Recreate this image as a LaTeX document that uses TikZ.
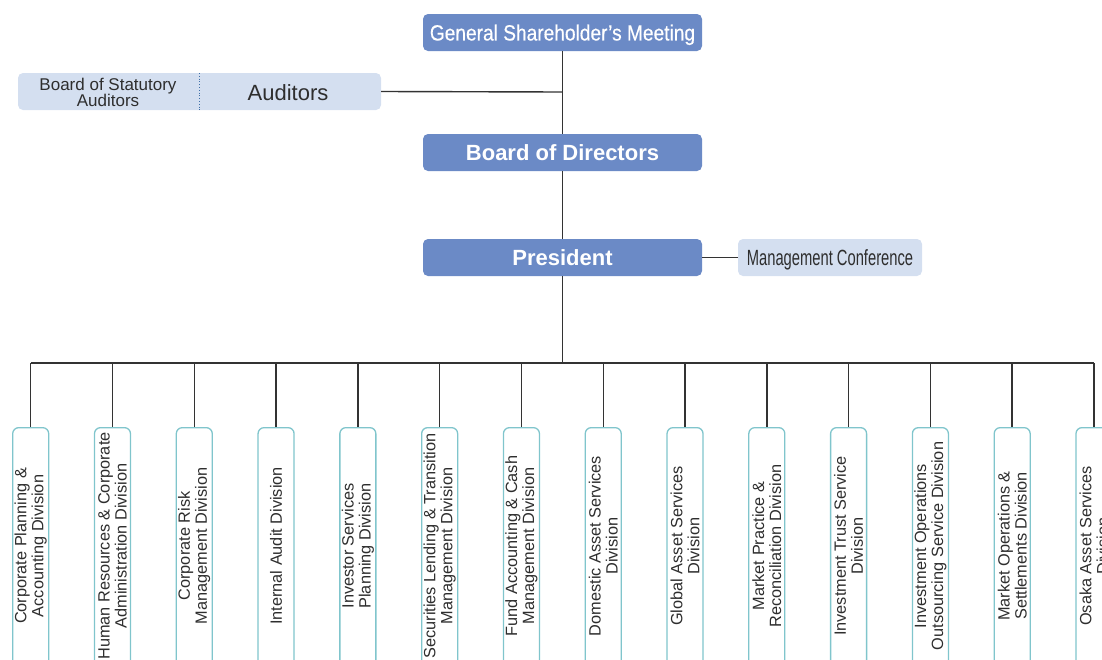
\documentclass[tikz,border=0pt]{standalone}
\usepackage{fontspec}
\setmainfont{Liberation Sans}
\newfontfamily\condfont[FakeStretch=0.87,FakeBold=0.4]{Liberation Sans}
\newfontfamily\narrowfont[FakeStretch=0.67]{Liberation Sans}
\definecolor{topblue}{HTML}{6B8AC6}
\definecolor{lightblue}{HTML}{D4DFF0}
\definecolor{tealedge}{HTML}{80C5CC}
\definecolor{linegray}{HTML}{333333}
\definecolor{textgray}{HTML}{2E2E2E}
\definecolor{dotblue}{HTML}{3F6FA8}
\begin{document}
\begin{tikzpicture}[x=1pt,y=-1pt,
  topbox/.style={fill=topblue, rounded corners=5pt, minimum width=279pt, minimum height=37pt, text=white, inner sep=0pt, text depth=0pt},
  lightbox/.style={fill=lightblue, rounded corners=5pt, minimum height=37pt, inner sep=0pt, text=textgray, text depth=0pt},
  divbox/.style={draw=tealedge, line width=1.3pt, fill=white, rounded corners=6pt, minimum width=36pt, minimum height=240pt, anchor=north, inner sep=0pt},
  divtext/.style={rotate=90, align=center, font=\fontsize{16.3}{17}\selectfont, text=textgray, inner sep=0pt},
  conn/.style={draw=linegray, line width=1.4pt}]
\useasboundingbox (0,0) rectangle (1102,659);
\clip (0,0) rectangle (1102,659);

% top level
\node[topbox, font=\condfont\fontsize{22}{24}\selectfont] (gsm) at (562.5,32.5) {General Shareholder’s Meeting};
\node[topbox, font=\bfseries\fontsize{22}{24}\selectfont] (bod) at (562.5,152.5) {Board of Directors};
\node[topbox, font=\bfseries\fontsize{22}{24}\selectfont] (pres) at (562.5,257.5) {President};
\node[lightbox, minimum width=184pt, font=\narrowfont\fontsize{22}{24}\selectfont] (mc) at (830,257.5) {Management Conference};

% auditors
\node[lightbox, minimum width=363pt] (aud) at (199.5,91.5) {};
\coordinate (dtop) at (199,73);
\coordinate (dbot) at (199,110);
\draw[dotblue, line width=0.8pt, dotted] (dtop) -- (dbot);
\node[align=center, font=\fontsize{17}{16}\selectfont, text=textgray, inner sep=0pt] (bsa) at (108,92) {Board of Statutory\\Auditors};
\node[font=\fontsize{22}{24}\selectfont, text=textgray, inner sep=0pt] (audt) at (288,93) {Auditors};

% connectors top
\coordinate (trunkaud) at (562.5,92);
\coordinate (bus) at (562.5,363);
\draw[conn] (gsm.south) -- (bod.north);
\draw[conn] (aud.east) -- (trunkaud);
\draw[conn] (bod.south) -- (pres.north);
\draw[conn] (pres.east) -- (mc.west);
\draw[conn] (pres.south) -- (bus);

% divisions
\foreach \i/\txt in {
  0/{Corporate Planning \&\\Accounting Division},
  1/{Human Resources \& Corporate\\Administration Division},
  2/{Corporate Risk\\Management Division},
  3/{Internal Audit Division},
  4/{Investor Services\\Planning Division},
  5/{Securities Lending \& Transition\\Management Division},
  6/{Fund Accounting \& Cash\\Management Division},
  7/{Domestic Asset Services\\Division},
  8/{Global Asset Services\\Division},
  9/{Market Practice \&\\Reconciliation Division},
  10/{Investment Trust Service\\Division},
  11/{Investment Operations\\Outsourcing Service Division},
  12/{Market Operations \&\\Settlements Division},
  13/{Osaka Asset Services\\Division}}{
  \node[divbox] (d\i) at ({30.7+81.79*\i},427) {};
  \node[divtext] (t\i) at ({30.7+81.79*\i},546) {\txt};
  \coordinate (b\i) at ({30.7+81.79*\i},363);
  \draw[conn] (b\i) -- (d\i.north);
}
\draw[conn] (b0) -- (b13);
\end{tikzpicture}
\end{document}
